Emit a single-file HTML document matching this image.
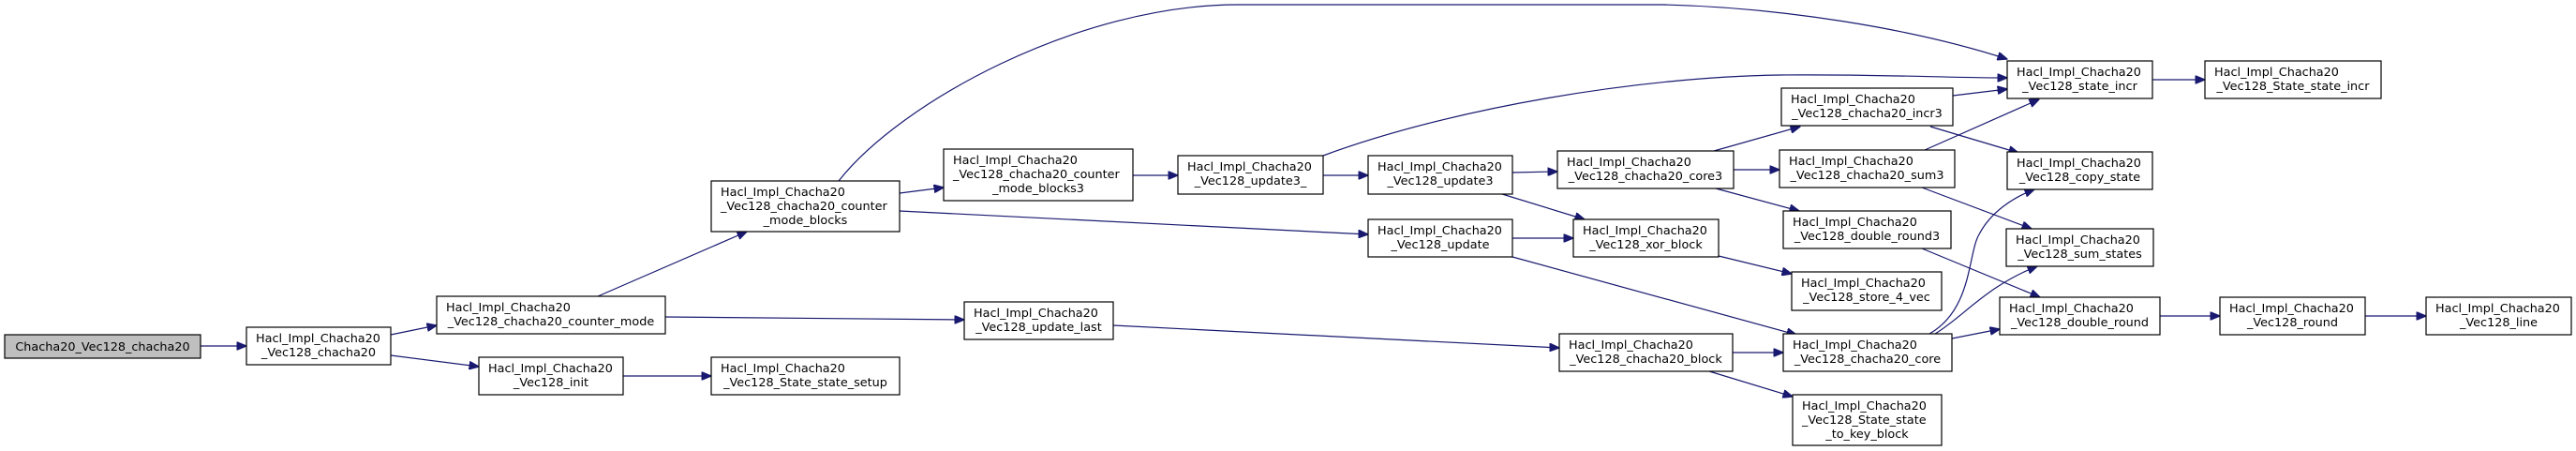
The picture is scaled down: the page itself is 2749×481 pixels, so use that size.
<!DOCTYPE html>
<html><head><meta charset="utf-8"><style>
html,body{margin:0;padding:0;background:#fff;}
svg{display:block;}
text{font-family:"DejaVu Sans","Liberation Sans",sans-serif;font-size:12.8px;fill:#000;}
.e{fill:none;stroke:#191970;stroke-width:1.2;}
.n{fill:#fff;stroke:#000;stroke-width:1.2;}
</style></head><body>
<svg width="2749" height="481" viewBox="0 0 2749 481" xmlns="http://www.w3.org/2000/svg">
<defs><marker id="a" markerWidth="11" markerHeight="9" refX="10.5" refY="4.5" orient="auto" markerUnits="userSpaceOnUse"><path d="M0,0 L11,4.5 L0,9 Z" fill="#191970" stroke="#191970"/></marker></defs>
<g marker-end="url(#a)">
<path class="e" d="M214,369 L263,369"/>
<path class="e" d="M417,357 L466,347"/>
<path class="e" d="M417,379 L511,391"/>
<path class="e" d="M638,316 L797,247"/>
<path class="e" d="M710,338 L1029,341"/>
<path class="e" d="M665,401 L759,401"/>
<path class="e" d="M960,206 L1007,200"/>
<path class="e" d="M960,225 L1460,250"/>
<path class="e" d="M895,193 C960,110 1150,5 1321,5 L1775,5 C1900,8 2040,30 2142,63"/>
<path class="e" d="M1209,187 L1257,187"/>
<path class="e" d="M1412,187 L1460,187"/>
<path class="e" d="M1412,166 C1550,115 1750,82 1900,80 C2000,79 2080,83 2142,83"/>
<path class="e" d="M1614,184 L1662,183"/>
<path class="e" d="M1603,207 L1691,234"/>
<path class="e" d="M1614,254 L1679,254"/>
<path class="e" d="M1614,274 L1917,357"/>
<path class="e" d="M1829,161 L1921,135"/>
<path class="e" d="M1850,181 L1899,181"/>
<path class="e" d="M1831,201 L1920,225"/>
<path class="e" d="M2084,102 L2142,95"/>
<path class="e" d="M2060,135 L2154,163"/>
<path class="e" d="M2054,160 L2176,106"/>
<path class="e" d="M2051,200 L2168,244"/>
<path class="e" d="M2051,265 L2177,317"/>
<path class="e" d="M1834,273 L1912,292"/>
<path class="e" d="M2059,356 C2105,330 2100,270 2112,250 C2125,225 2150,210 2171,202"/>
<path class="e" d="M2065,356 C2095,338 2120,305 2174,284"/>
<path class="e" d="M2083,361 L2134,351"/>
<path class="e" d="M1849,376 L1903,376"/>
<path class="e" d="M1824,396 L1913,423"/>
<path class="e" d="M1188,347 L1664,371"/>
<path class="e" d="M2297,85 L2353,85"/>
<path class="e" d="M2305,337 L2369,337"/>
<path class="e" d="M2524,337 L2589,337"/>
</g>
<!-- nodes -->
<rect x="5" y="357" width="209" height="25" fill="#bfbfbf" stroke="#000" stroke-width="1.2"/>
<text x="109.5" y="374" text-anchor="middle">Chacha20_Vec128_chacha20</text>

<rect class="n" x="263" y="349" width="154" height="40"/>
<text x="273" y="365">Hacl_Impl_Chacha20</text><text x="340" y="380" text-anchor="middle">_Vec128_chacha20</text>

<rect class="n" x="466" y="316" width="244" height="40"/>
<text x="476" y="332">Hacl_Impl_Chacha20</text><text x="588" y="347" text-anchor="middle">_Vec128_chacha20_counter_mode</text>

<rect class="n" x="511" y="381" width="154" height="40"/>
<text x="521" y="397">Hacl_Impl_Chacha20</text><text x="588" y="412" text-anchor="middle">_Vec128_init</text>

<rect class="n" x="759" y="381" width="201" height="40"/>
<text x="769" y="397">Hacl_Impl_Chacha20</text><text x="859.5" y="412" text-anchor="middle">_Vec128_State_state_setup</text>

<rect class="n" x="759" y="193" width="201" height="54"/>
<text x="769" y="209">Hacl_Impl_Chacha20</text><text x="769" y="224">_Vec128_chacha20_counter</text><text x="859.5" y="239" text-anchor="middle">_mode_blocks</text>

<rect class="n" x="1007" y="159" width="202" height="55"/>
<text x="1017" y="175">Hacl_Impl_Chacha20</text><text x="1017" y="190">_Vec128_chacha20_counter</text><text x="1108" y="205" text-anchor="middle">_mode_blocks3</text>

<rect class="n" x="1257" y="166" width="155" height="41"/>
<text x="1267" y="182">Hacl_Impl_Chacha20</text><text x="1334.5" y="197" text-anchor="middle">_Vec128_update3_</text>

<rect class="n" x="1460" y="166" width="154" height="41"/>
<text x="1470" y="182">Hacl_Impl_Chacha20</text><text x="1537" y="197" text-anchor="middle">_Vec128_update3</text>

<rect class="n" x="1662" y="161" width="188" height="40"/>
<text x="1672" y="177">Hacl_Impl_Chacha20</text><text x="1756" y="192" text-anchor="middle">_Vec128_chacha20_core3</text>

<rect class="n" x="1460" y="234" width="154" height="40"/>
<text x="1470" y="250">Hacl_Impl_Chacha20</text><text x="1537" y="265" text-anchor="middle">_Vec128_update</text>

<rect class="n" x="1679" y="234" width="155" height="40"/>
<text x="1689" y="250">Hacl_Impl_Chacha20</text><text x="1756.5" y="265" text-anchor="middle">_Vec128_xor_block</text>

<rect class="n" x="1029" y="322" width="159" height="40"/>
<text x="1039" y="338">Hacl_Impl_Chacha20</text><text x="1108.5" y="353" text-anchor="middle">_Vec128_update_last</text>

<rect class="n" x="1664" y="356" width="185" height="40"/>
<text x="1674" y="372">Hacl_Impl_Chacha20</text><text x="1756.5" y="387" text-anchor="middle">_Vec128_chacha20_block</text>

<rect class="n" x="2142" y="65" width="155" height="40"/>
<text x="2152" y="81">Hacl_Impl_Chacha20</text><text x="2219.5" y="96" text-anchor="middle">_Vec128_state_incr</text>

<rect class="n" x="2353" y="65" width="188" height="40"/>
<text x="2363" y="81">Hacl_Impl_Chacha20</text><text x="2447" y="96" text-anchor="middle">_Vec128_State_state_incr</text>

<rect class="n" x="1901" y="94" width="183" height="40"/>
<text x="1911" y="110">Hacl_Impl_Chacha20</text><text x="1992.5" y="125" text-anchor="middle">_Vec128_chacha20_incr3</text>

<rect class="n" x="1899" y="160" width="187" height="40"/>
<text x="1909" y="176">Hacl_Impl_Chacha20</text><text x="1992.5" y="191" text-anchor="middle">_Vec128_chacha20_sum3</text>

<rect class="n" x="2142" y="162" width="155" height="40"/>
<text x="2152" y="178">Hacl_Impl_Chacha20</text><text x="2219.5" y="193" text-anchor="middle">_Vec128_copy_state</text>

<rect class="n" x="1903" y="225" width="179" height="40"/>
<text x="1913" y="241">Hacl_Impl_Chacha20</text><text x="1992.5" y="256" text-anchor="middle">_Vec128_double_round3</text>

<rect class="n" x="2141" y="244" width="157" height="40"/>
<text x="2151" y="260">Hacl_Impl_Chacha20</text><text x="2219.5" y="275" text-anchor="middle">_Vec128_sum_states</text>

<rect class="n" x="1912" y="290" width="160" height="41"/>
<text x="1922" y="306">Hacl_Impl_Chacha20</text><text x="1992" y="321" text-anchor="middle">_Vec128_store_4_vec</text>

<rect class="n" x="2134" y="317" width="171" height="40"/>
<text x="2144" y="333">Hacl_Impl_Chacha20</text><text x="2219.5" y="348" text-anchor="middle">_Vec128_double_round</text>

<rect class="n" x="2369" y="317" width="155" height="40"/>
<text x="2379" y="333">Hacl_Impl_Chacha20</text><text x="2446.5" y="348" text-anchor="middle">_Vec128_round</text>

<rect class="n" x="2589" y="317" width="155" height="40"/>
<text x="2599" y="333">Hacl_Impl_Chacha20</text><text x="2666.5" y="348" text-anchor="middle">_Vec128_line</text>

<rect class="n" x="1903" y="356" width="180" height="40"/>
<text x="1913" y="372">Hacl_Impl_Chacha20</text><text x="1993" y="387" text-anchor="middle">_Vec128_chacha20_core</text>

<rect class="n" x="1913" y="421" width="159" height="54"/>
<text x="1923" y="437">Hacl_Impl_Chacha20</text><text x="1923" y="452">_Vec128_State_state</text><text x="1992.5" y="467" text-anchor="middle">_to_key_block</text>
</svg>
</body></html>
